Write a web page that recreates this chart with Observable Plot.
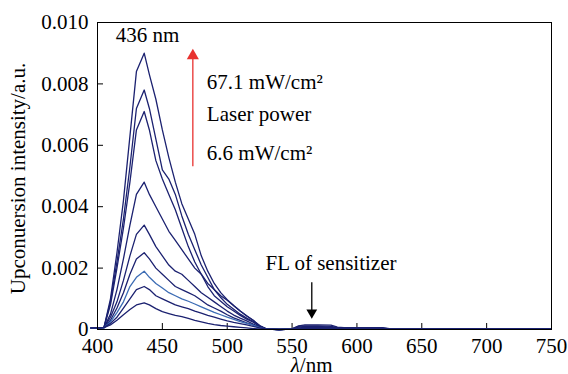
<!DOCTYPE html>
<html>
<head>
<meta charset="utf-8">
<script src="https://cdn.jsdelivr.net/npm/d3@7"></script>
<script src="https://cdn.jsdelivr.net/npm/@observablehq/plot@0.6"></script>
<style>
  html, body { margin: 0; padding: 0; background: #fff; }
  #chart svg { display: block; }
  #chart svg, #chart svg text, #chart svg g { font-family: "Liberation Serif", "Tinos", "Times New Roman", "DejaVu Serif", serif !important; }
</style>
</head>
<body>
<div id="chart"></div>
<script>
// Wavelength grid (nm)
const wavelength = [395,400,405,410,415,420,425,430,436,440,445,450,455,460,465,470,475,480,485,490,495,500,505,510,515,520,525,530,540,550,555,560,570,580,585,590,600,610,620,625,630,650,700,750];

// Upconversion spectra at increasing laser power (highest first)
const s1 = [0.00005,0.00005,0.00007,0.0010,0.0025,0.0042,0.0063,0.0084,0.0090,0.0083,0.0075,0.0065,0.0056,0.0048,0.0041,0.0036,0.0031,0.0024,0.0019,0.0015,0.0012,0.00097,0.00078,0.0006,0.00044,0.0003,0.00013,0.00002,0,0.00002,0.00012,0.00015,0.00015,0.00014,0.00008,0.00006,0.00006,0.00006,0.00006,0.00003,0.00002,0.00002,0.00003,0.00002];
const s2 = [0.00005,0.00005,0.00007,0.0009,0.0022,0.0036,0.0053,0.0072,0.0078,0.0072,0.0062,0.0052,0.0049,0.0044,0.0037,0.0031,0.0026,0.0021,0.0017,0.0013,0.00104,0.00082,0.00066,0.0005,0.00037,0.00026,0.00011,0.00002,0,0.00002,0.0001,0.00012,0.00012,0.0001,0.00006,0.00004,0.00004,0.00004,0.00004,0.00002,0.00002,0.00002,0.00003,0.00002];
const s3 = [0.00005,0.00005,0.00007,0.0008,0.0020,0.0033,0.0048,0.0065,0.0071,0.0065,0.0055,0.0049,0.0044,0.0039,0.0033,0.0027,0.0022,0.0018,0.0014,0.0011,0.00092,0.00074,0.0006,0.00046,0.00034,0.00024,0.0001,0.00002,0,0.00002,0.00008,0.0001,0.0001,0.00008,0.00005,0.00004,0.00004,0.00004,0.00003,0.00002,0.00002,0.00002,0.00003,0.00002];
const s4 = [0.00005,0.00005,0.00006,0.0005,0.0013,0.0023,0.0034,0.0044,0.0048,0.0044,0.0040,0.0036,0.0032,0.0029,0.0026,0.0023,0.0020,0.0018,0.0015,0.0013,0.0011,0.00095,0.00077,0.0006,0.00045,0.0003,0.00012,0.00002,0,0.00001,0.00005,0.00007,0.00007,0.00006,0.00004,0.00003,0.00003,0.00003,0.00003,0.00002,0.00002,0.00002,0.00003,0.00002];
const s5 = [0.00005,0.00005,0.00006,0.0004,0.0009,0.0016,0.0024,0.0031,0.0034,0.0031,0.0027,0.0024,0.0021,0.0019,0.0018,0.0016,0.0014,0.0012,0.00105,0.0009,0.00075,0.0006,0.00047,0.00037,0.00028,0.00018,0.00008,0.00001,0,0.00001,0.00003,0.00004,0.00004,0.00003,0.00002,0.00002,0.00002,0.00002,0.00002,0.00002,0.00002,0.00002,0.00003,0.00002];
const s6 = [0.00005,0.00005,0.00006,0.0003,0.0007,0.0012,0.0018,0.0023,0.0025,0.0023,0.0020,0.0018,0.0016,0.0014,0.0013,0.0012,0.0011,0.00095,0.0008,0.0007,0.0006,0.00048,0.00038,0.0003,0.00022,0.00015,0.00007,0.00001,0,0.00001,0.00003,0.00003,0.00003,0.00003,0.00002,0.00002,0.00002,0.00002,0.00002,0.00002,0.00002,0.00002,0.00003,0.00002];
const s7 = [0.00005,0.00005,0.00006,0.00025,0.00055,0.0009,0.0014,0.0017,0.0019,0.0017,0.0015,0.00135,0.0012,0.0011,0.001,0.00092,0.00083,0.00074,0.00065,0.00056,0.00048,0.0004,0.00033,0.00026,0.0002,0.00014,0.00006,0.00001,0,0.00001,0.00002,0.00003,0.00003,0.00002,0.00002,0.00002,0.00002,0.00002,0.00002,0.00002,0.00002,0.00002,0.00003,0.00002];
const s8 = [0.00005,0.00005,0.00006,0.0002,0.0004,0.0007,0.001,0.0013,0.0014,0.0013,0.0011,0.001,0.0009,0.0008,0.00074,0.00068,0.0006,0.00053,0.00046,0.0004,0.00034,0.00028,0.00023,0.00019,0.00015,0.0001,0.00005,0.00001,0,0.00001,0.00002,0.00003,0.00003,0.00002,0.00002,0.00002,0.00002,0.00002,0.00002,0.00002,0.00002,0.00002,0.00003,0.00002];
const s9 = [0.00005,0.00005,0.00006,0.00015,0.0003,0.00048,0.00065,0.0008,0.00087,0.0008,0.00068,0.00058,0.00052,0.00046,0.00042,0.00036,0.0003,0.00025,0.0002,0.00016,0.00013,0.00011,0.00009,0.00007,0.00005,0.00003,0.00002,0.00001,0,0.00001,0.00002,0.00002,0.00002,0.00002,0.00002,0.00002,0.00002,0.00002,0.00002,0.00002,0.00002,0.00002,0.00003,0.00002];

const seriesValues = [s1, s2, s3, s4, s5, s6, s7, s8, s9];
const seriesColors = ["#1b2170","#1b2170","#1b2170","#1b2170","#1b2170","#1b2170","#3c6cb4","#1b2170","#1b2170"];

const xTicks = [400,450,500,550,600,650,700,750];
const yTicks = [0,0.002,0.004,0.006,0.008,0.010];

// Build tidy table
const rows = [];
seriesValues.forEach((vals, i) => {
  vals.forEach((v, j) => rows.push({series: i, wl: wavelength[j], v, color: seriesColors[i]}));
});

const FONT = "'Liberation Serif', 'Tinos', 'Times New Roman', 'DejaVu Serif', serif";

const chart = Plot.plot({
  width: 568,
  height: 374,
  marginTop: 22,
  marginBottom: 45,
  marginLeft: 97,
  marginRight: 17,
  style: {fontFamily: FONT, fontSize: "21px", background: "#fff", color: "#000", overflow: "visible"},
  x: {domain: [400, 750]},
  y: {domain: [0, 0.010]},
  color: {type: "identity"},
  marks: [
    Plot.axisX(xTicks, {tickSize: 0, tickPadding: 9, label: null, fontSize: 21, fontFamily: FONT}),
    Plot.axisX(xTicks, {tickSize: -6, text: null, label: null}),
    Plot.axisY(yTicks, {tickSize: 0, tickPadding: 9, label: null, fontSize: 21, fontFamily: FONT,
      tickFormat: d => d === 0 ? "0" : d.toFixed(3)}),
    Plot.axisY(yTicks, {tickSize: -6, text: null, label: null}),
    Plot.line(rows, {x: "wl", y: "v", z: "series", stroke: "color", strokeWidth: 1.3}),
    Plot.frame({stroke: "#000", strokeWidth: 1}),
    // Annotations
    Plot.text(["436 nm"], {x: 438.5, y: 0.00936, lineAnchor: "bottom", textAnchor: "middle", fontSize: 21, fontFamily: FONT}),
    Plot.ruleX([473.5], {y1: 0.0053, y2: 0.0088, stroke: "#e8322f", strokeWidth: 1.3}),
    Plot.dot([473.5], {x: d => d, y: 0.00892, symbol: "triangle", r: 4.5, fill: "#e8322f", stroke: null}),
    Plot.text(["67.1 mW/cm²"], {x: 484.3, y: 0.00784, lineAnchor: "bottom", textAnchor: "start", fontSize: 21, fontFamily: FONT}),
    Plot.text(["Laser power"], {x: 484.3, y: 0.0068, lineAnchor: "bottom", textAnchor: "start", fontSize: 21, fontFamily: FONT}),
    Plot.text(["6.6 mW/cm²"], {x: 484.3, y: 0.00552, lineAnchor: "bottom", textAnchor: "start", fontSize: 21, fontFamily: FONT}),
    Plot.text(["FL of sensitizer"], {x: 580, y: 0.00193, lineAnchor: "bottom", textAnchor: "middle", fontSize: 21, fontFamily: FONT}),
    Plot.ruleX([565.2], {y1: 0.00152, y2: 0.0006, stroke: "#000", strokeWidth: 1.3}),
    Plot.dot([565.2], {x: d => d, y: 0.00055, symbol: "triangle", rotate: 180, r: 4, fill: "#000", stroke: null}),
    // Axis titles
    Plot.text(["λ"], {x: 556, frameAnchor: "bottom", dy: 42, lineAnchor: "bottom", textAnchor: "end", fontStyle: "italic", fontSize: 21, fontFamily: FONT}),
    Plot.text(["/nm"], {x: 556, frameAnchor: "bottom", dy: 42, lineAnchor: "bottom", textAnchor: "start", fontSize: 21, fontFamily: FONT}),
    Plot.text(["Upconuersion intensity/a.u."], {frameAnchor: "left", dx: -79, dy: 2.5, rotate: -90, textAnchor: "middle", lineAnchor: "middle", fontSize: 21, fontFamily: FONT})
  ]
});

document.getElementById("chart").appendChild(chart);
</script>
</body>
</html>
